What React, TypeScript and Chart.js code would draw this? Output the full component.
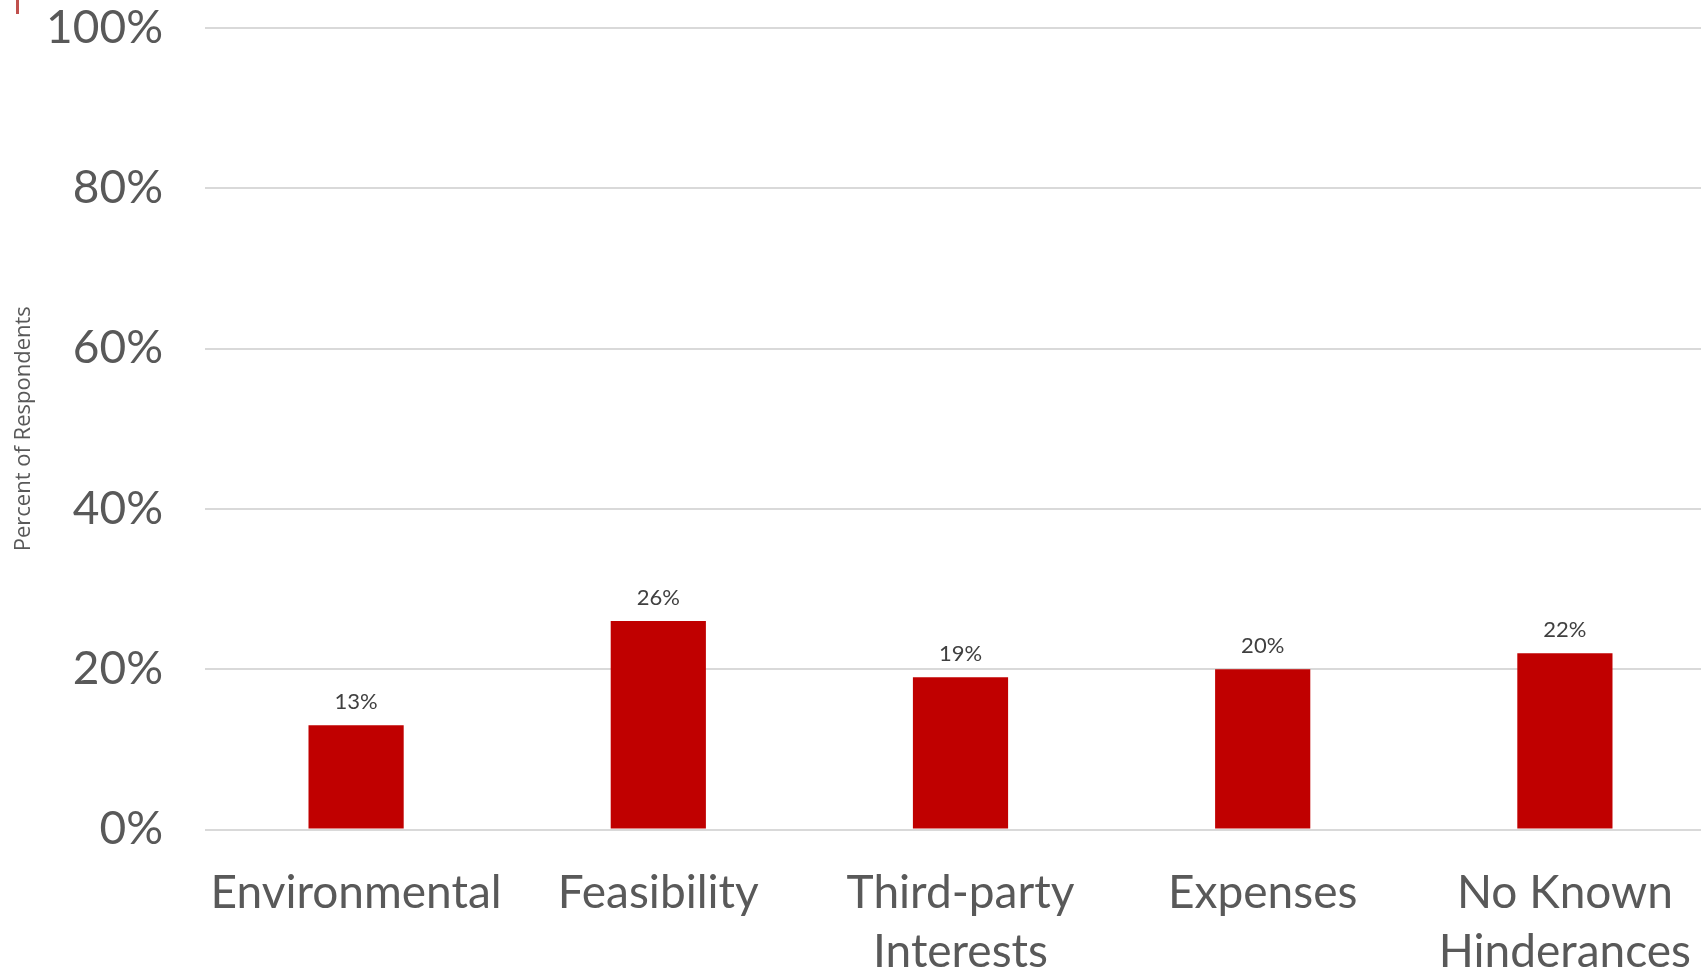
import React, { useEffect, useRef } from "react";
import { Chart, registerables } from "chart.js";

Chart.register(...registerables);

// Survey results: reported hindrances
const categories: (string | string[])[] = [
  "Environmental",
  "Feasibility",
  ["Third-party", "Interests"],
  "Expenses",
  ["No Known", "Hinderances"],
];
const percentValues: number[] = [13, 26, 19, 20, 22];
const yTickValues: number[] = [0, 20, 40, 60, 80, 100];
const yAxisTitle = "Percent of Respondents";

const BAR_COLOR = "#C00000";
const TEXT_COLOR = "#595959";
const LABEL_COLOR = "#404040";
const GRID_COLOR = "#D9D9D9";
const MAIN_FONT = "Lato, 'Noto Sans', sans-serif";

// Writes the percentage above each bar, using the bar element positions.
const barValueLabels = {
  id: "barValueLabels",
  afterDatasetsDraw(chart: Chart) {
    const ctx = chart.ctx;
    const meta = chart.getDatasetMeta(0);
    const data = chart.data.datasets[0].data as number[];
    ctx.save();
    ctx.font = `22px ${MAIN_FONT}`;
    ctx.fillStyle = LABEL_COLOR;
    ctx.textAlign = "center";
    ctx.textBaseline = "alphabetic";
    meta.data.forEach((el: any, i: number) => {
      ctx.fillText(`${data[i]}%`, el.x, el.y - 16);
    });
    ctx.restore();
  },
};

export default function App() {
  const canvasRef = useRef<HTMLCanvasElement | null>(null);

  useEffect(() => {
    const canvas = canvasRef.current;
    if (!canvas) return;
    const chart = new Chart(canvas, {
      type: "bar",
      data: {
        labels: categories,
        datasets: [
          {
            data: percentValues,
            backgroundColor: BAR_COLOR,
            borderWidth: 0,
            barPercentage: 1,
            categoryPercentage: 0.315,
          },
        ],
      },
      options: {
        responsive: false,
        animation: false,
        events: [],
        layout: { padding: { top: 28, left: 0, right: 0, bottom: 0 } },
        plugins: {
          legend: { display: false },
          tooltip: { enabled: false },
          title: { display: false },
        },
        scales: {
          x: {
            offset: true,
            grid: { display: false, drawTicks: false },
            border: { display: false },
            ticks: {
              color: TEXT_COLOR,
              padding: 34,
              maxRotation: 0,
              autoSkip: false,
              font: { family: MAIN_FONT, size: 46, lineHeight: 1.28 },
            },
            afterFit(scale: any) {
              scale.height = 170.5;
              // let the plot run to the canvas edge
              scale.paddingLeft = 0;
              scale.paddingRight = 0;
            },
          },
          y: {
            min: 0,
            max: 100,
            afterBuildTicks(scale: any) {
              scale.ticks = yTickValues.map((v) => ({ value: v }));
            },
            grid: { color: GRID_COLOR, lineWidth: 2, drawTicks: false },
            border: { display: false },
            ticks: {
              color: TEXT_COLOR,
              padding: 42,
              font: { family: MAIN_FONT, size: 46 },
              callback: (v: any) => `${v}%`,
            },
            title: {
              display: true,
              text: yAxisTitle,
              color: TEXT_COLOR,
              font: { family: "'Open Sans', sans-serif", size: 22 },
              padding: { top: 11, bottom: 0 },
            },
            afterFit(scale: any) {
              scale.width = 205;
              // the plot edges are fixed by the layout padding alone
              scale.paddingTop = 0;
              scale.paddingBottom = 0;
            },
          },
        },
      },
      plugins: [barValueLabels],
    });
    return () => chart.destroy();
  }, []);

  return (
    <div
      style={{
        position: "fixed",
        left: 0,
        top: 0,
        width: 1701,
        height: 969,
        overflow: "hidden",
        background: "#ffffff",
      }}
    >
      <div
        style={{
          position: "absolute",
          left: 16,
          top: 0,
          width: 3,
          height: 14,
          background: "#C0504D",
        }}
      />
      <canvas
        ref={canvasRef}
        width={1716}
        height={1000}
        style={{ position: "absolute", left: 0, top: 0, display: "block" }}
      />
    </div>
  );
}
